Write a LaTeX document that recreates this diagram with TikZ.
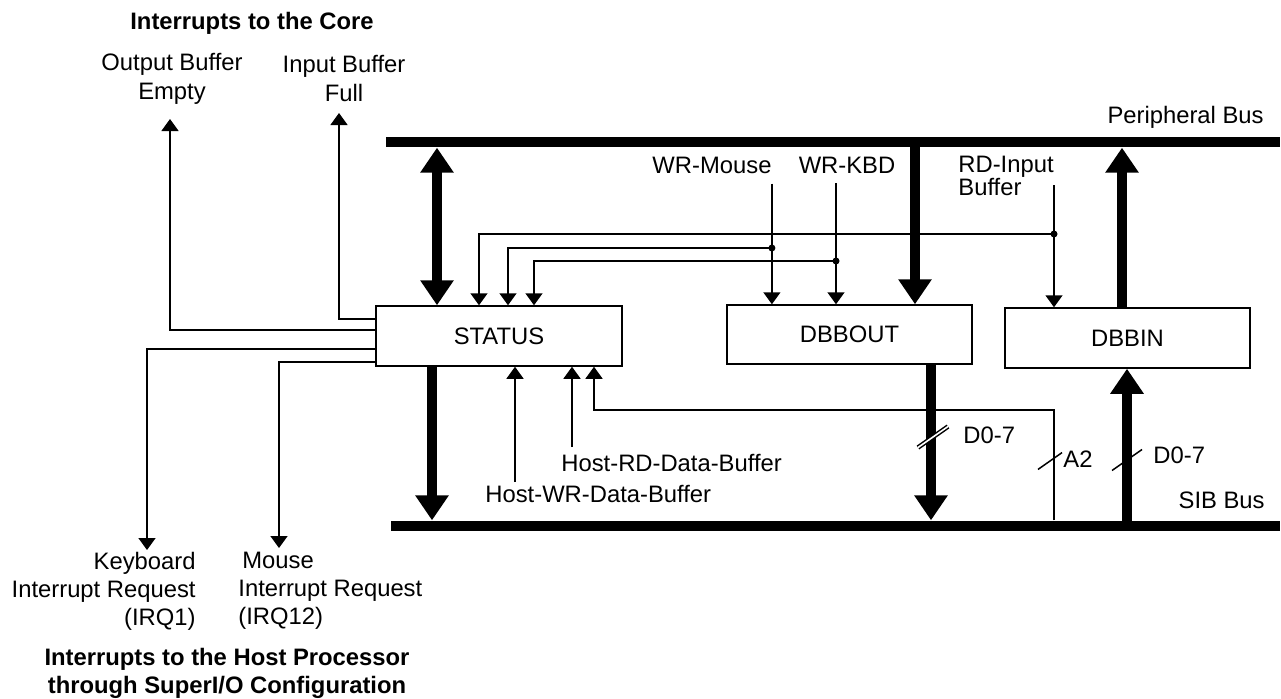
\documentclass[tikz,border=0pt]{standalone}
\usepackage{fontspec}
\setmainfont{Liberation Sans}
\usetikzlibrary{arrows.meta}
\tikzset{>=latex}
\tikzset{
  txt/.style={inner sep=0pt, font=\fontsize{11.9}{14.5}\selectfont},
  title/.style={inner sep=0pt, font=\fontsize{11.9}{14}\selectfont\bfseries, align=center},
  reg/.style={txt, draw, line width=0.75pt, minimum width=123pt, minimum height=30pt},
  busbar/.style={fill, inner sep=0pt, minimum height=5.3pt},
  sig/.style={line width=0.75pt, -{Triangle[width=8.5pt,length=6pt]}},
  fat/.style={line width=4.75pt, -{Triangle[width=16pt,length=12.5pt]}},
  fatboth/.style={fat, {Triangle[width=16pt,length=12.5pt]}-{Triangle[width=16pt,length=12.5pt]}},
  busslash/.pic={
    \draw[line width=0.75pt, pic actions] (-15,10.5) -- (15,-10.5);
  },
}

\begin{document}
\begin{tikzpicture}[x=0.5pt, y=-0.5pt]
  \useasboundingbox (0,0) rectangle (1281,698);
  % buses
  \node[busbar, minimum width=447pt] (pbus) at (833,142) {};
  \node[busbar, minimum width=444.5pt] (sbus) at (835.5,526) {};
  \node[txt, anchor=east] (pblbl) at (1264,117) {Peripheral Bus};
  \node[txt, anchor=east] (sblbl) at (1265,500) {SIB Bus};

  % registers
  \node[reg] (status) at (499,336) {STATUS};
  \node[reg, minimum width=122.5pt, minimum height=29.5pt] (dbbout) at (849.5,334.5) {DBBOUT};
  \node[reg, minimum width=122.5pt] (dbbin) at (1127.5,338) {DBBIN};

  % labels
  \node[title] (coretitle) at (252,23.5) {Interrupts to the Core};
  \node[txt, align=center] (obe) at (172,79) {Output Buffer\\Empty};
  \node[txt, align=center] (ibf) at (344,78) {Input Buffer\\Full};
  \node[txt] (wrm) at (712,165) {WR-Mouse};
  \node[txt] (wrk) at (847,165) {WR-KBD};
  \node[txt, align=left, anchor=west, font=\fontsize{11.9}{11.5}\selectfont] (rdib) at (958,176) {RD-Input\\Buffer};
  \node[txt, anchor=west] (hrd) at (561,463) {Host-RD-Data-Buffer};
  \node[txt, anchor=west] (hwr) at (485,494) {Host-WR-Data-Buffer};
  \node[txt, anchor=west] (d07a) at (963,435) {D0-7};
  \node[txt, anchor=west] (a2) at (1063,459) {A2};
  \node[txt, anchor=west] (d07b) at (1153,455.5) {D0-7};
  \node[txt, align=right, anchor=east, font=\fontsize{11.9}{14}\selectfont] (kirq) at (196,591) {Keyboard\\Interrupt Request\\(IRQ1)};
  \node[txt, align=left, anchor=west, font=\fontsize{11.9}{14}\selectfont] (mirq) at (238,591) {\hspace*{2pt}Mouse\\Interrupt Request\\(IRQ12)};
  \node[title] (hosttitle) at (227,673) {Interrupts to the Host Processor\\through SuperI/O Configuration};

  % data paths
  \draw[fatboth] (437,0 |- pbus.south) -- (437,0 |- status.north);
  \draw[fat] (432,0 |- status.south) -- (432,0 |- sbus.north);
  \draw[fat] (915,0 |- pbus.center) -- (915,0 |- dbbout.north);
  \draw[fat] (931,0 |- dbbout.south) -- (931,0 |- sbus.north);
  \draw[fat] (1122,0 |- dbbin.north) -- (1122,0 |- pbus.south);
  \draw[fat] (1127,0 |- sbus.center) -- (1127,0 |- dbbin.south);

  % control strobes
  \coordinate (msrc) at ([yshift=-5pt]wrm.south east);
  \coordinate (ksrc) at (836,183);
  \coordinate (rsrc) at (1054,185);
  \coordinate (mdot) at (msrc |- 0,248);
  \coordinate (kdot) at (ksrc |- 0,261);
  \coordinate (rdot) at (rsrc |- 0,234);
  \draw[sig] (msrc) -- (msrc |- dbbout.north);
  \draw[sig] (ksrc) -- (ksrc |- dbbout.north);
  \draw[sig] (rsrc) -- (rsrc |- dbbin.north);
  \draw[sig] (rdot) -| (479,0 |- status.north);
  \draw[sig] (mdot) -| (508,0 |- status.north);
  \draw[sig] (kdot) -| (534,0 |- status.north);
  \foreach \d in {mdot,kdot,rdot} \fill (\d) circle (1.75pt);

  \coordinate (hrdsrc) at (572,447);
  \coordinate (hwrsrc) at (515,482);
  \draw[sig] (hrdsrc) -- (hrdsrc |- status.south);
  \draw[sig] (hwrsrc) -- (hwrsrc |- status.south);
  \coordinate (a2src) at (1054,0 |- sbus.north);
  \coordinate (a2bend) at (594,410);
  \draw[sig] (a2src) |- (a2bend) -- (a2bend |- status.south);

  % interrupts
  \coordinate (obetip) at (170,119);
  \coordinate (ibftip) at (339,113);
  \coordinate (kirqtip) at (147,550);
  \coordinate (mirqtip) at (279,548);
  \draw[sig] (status.west |- 0,330) -| (obetip);
  \draw[sig] (status.west |- 0,319) -| (ibftip);
  \draw[sig] (status.west |- 0,349) -| (kirqtip);
  \draw[sig] (status.west |- 0,362) -| (mirqtip);

  % bus widths
  \pic[double, double distance=0.8pt] at (933,437) {busslash};
  \pic at (1127,460) {busslash};
  \pic[scale=0.8] at (1050,461) {busslash};
\end{tikzpicture}
\end{document}
